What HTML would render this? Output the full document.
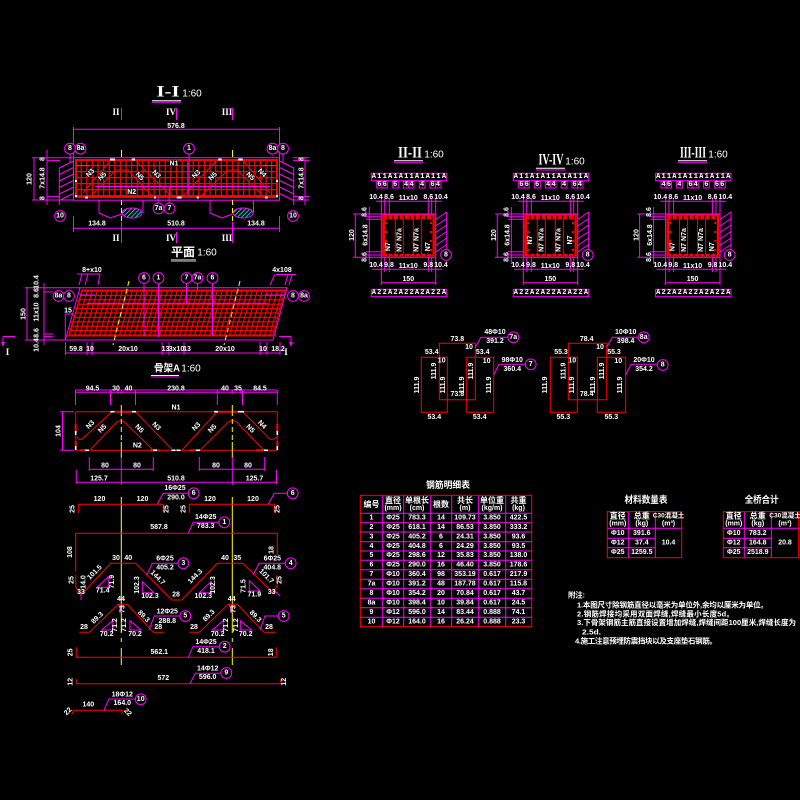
<!DOCTYPE html>
<html><head><meta charset="utf-8"><style>
html,body{margin:0;padding:0;background:#000;width:800px;height:800px;overflow:hidden}
svg{display:block}
text{fill:#fff;font-family:"Liberation Sans","Noto Sans CJK SC",sans-serif;font-size:7px;font-weight:bold;text-anchor:middle;dominant-baseline:central}
.m{stroke:#f0f;fill:none;stroke-width:1}
.r{stroke:#f00;fill:none;stroke-width:1}
.y{stroke:#ff0;fill:none;stroke-width:1}
.yd{stroke:#ff0;fill:none;stroke-width:1;stroke-dasharray:5 3}
.w{stroke:#fff;fill:none;stroke-width:1}
.c{stroke:#f0f;fill:#000;stroke-width:1}
.h{paint-order:stroke;stroke:#000;stroke-width:1.5px}
.ti{font-family:"Liberation Serif","Noto Serif CJK SC",serif;font-size:16px}
.sc{font-size:11px;font-weight:normal}
.cn{font-size:8px}
.nt{font-size:7.5px;text-anchor:start}
.cell{font-family:"Liberation Mono",monospace;font-size:7px;letter-spacing:1.186px;text-anchor:start}
</style></head><body>
<svg width="800" height="800" viewBox="0 0 800 800" xmlns="http://www.w3.org/2000/svg">
<defs>
<pattern id="g1" width="5.6" height="6" patternUnits="userSpaceOnUse" x="75" y="159"><path d="M.6 0V6M0 .6H5.6" stroke="#f00" stroke-width="1.4" fill="none"/></pattern>
<pattern id="g2" width="5" height="4.4" patternUnits="userSpaceOnUse" patternTransform="skewX(-16)"><path d="M.6 0V4.4M0 .6H5" stroke="#f00" stroke-width="1.3" fill="none"/></pattern>
<pattern id="hb" width="3" height="3" patternUnits="userSpaceOnUse" patternTransform="rotate(45)"><rect width="3" height="3" fill="#000"/><path d="M0 0V3" stroke="#0ff" stroke-width="1.6"/></pattern>
<pattern id="cl" width="5.386" height="8" patternUnits="userSpaceOnUse" x="371.3"><path d="M.5 0V8" stroke="#f0f"/></pattern>
<g id="sec">
<rect x="371.3" y="173.3" width="75.4" height="7.4" fill="url(#cl)" class="m" stroke="#f0f"/>
<rect x="371.3" y="289.3" width="75.4" height="7.4" fill="url(#cl)" class="m" stroke="#f0f"/>
<path class="m" d="M376.7 181.5h10.6v6.5h-10.6zM382 181.5v6.5M392.3 181.5h6v6.5h-6zM403.3 181.5h10.7v6.5h-10.7zM408.6 181.5v6.5M419.3 181.5h5.7v6.5h-5.7zM430 181.5h11v6.5h-11zM435.5 181.5v6.5"/>
<rect x="381.3" y="214" width="54.4" height="43.3" class="m"/>
<path class="m" d="M376 201.3H442M381.3 199V214M384.7 199V214M389.3 199V214M428.3 199V214M431.7 199V214M435.7 199V214"/>
<path class="m" d="M372 269.3H442M381.3 257.3V285M384.7 257.3V272M389.3 257.3V272M428.3 257.3V272M431.7 257.3V272M435.7 257.3V285M381.3 282.7H435.7"/>
<path class="m" d="M355.3 214V257.3M369.3 207V264M353 214H381M353 257.3H381M366 216.7H381M366 219.3H381M366 251.7H381M366 255H381"/>
<path class="m" d="M446.7 212V252M435.7 219.5L446.7 212M435.7 226L446.7 218.5M435.7 232.5L446.7 225M435.7 239L446.7 231.5M435.7 245.5L446.7 238M435.7 252L446.7 244.5"/>
<rect x="382.7" y="215" width="51.6" height="41" class="r"/>
<path d="M383 217.5H434" stroke="#f00" stroke-width="4" stroke-dasharray="4 1.5" fill="none"/>
<path d="M383 255H434" stroke="#f00" stroke-width="2.5" stroke-dasharray="4 1.5" fill="none"/>
<path d="M384 216V256M433.5 216V256" stroke="#f00" stroke-width="2" fill="none"/>
<path d="M386 222V252M431 222V252" stroke="#f00" stroke-width="2" stroke-dasharray="2 7" fill="none"/>
<path class="r" d="M395.3 217V255M403.3 217V255M413.3 217V255M421.3 217V255"/>
</g>
</defs>

<!-- I-I section -->
<text x="168" y="92" class="ti" textLength="23" lengthAdjust="spacingAndGlyphs">I-I</text>
<text x="192" y="94" class="sc" style="font-size:10px">1:60</text>
<path class="w" d="M152 100.7H181"/><path class="m" d="M152 102.3H181"/>
<path class="m" d="M121.5 108V120M176.5 108V120M232.5 108V120M121.5 232V243M176.5 232V243M232.5 232V243"/>
<text x="116" y="112" class="ti" style="font-size:9px">II</text><text x="171" y="112" class="ti" style="font-size:9px">IV</text><text x="227" y="112" class="ti" style="font-size:9px">III</text>
<text x="116" y="238" class="ti" style="font-size:9px">II</text><text x="171" y="238" class="ti" style="font-size:9px">IV</text><text x="227" y="238" class="ti" style="font-size:9px">III</text>
<path class="m" d="M73.5 127V158M279.5 127V158M73.5 129.3H279.5"/><text x="176" y="126.5">576.8</text>
<path class="y" d="M121.5 150V157M232.5 150V157"/>
<path class="m" d="M34 158V200M47 150V205M32 157.7H60M47 160.6H60M47 196.6H60M32 200H73M60 157.7H73M293 157.7H309M293 160.6H309M293 196.6H309M293 200H309M305 157V205"/>
<text x="30" y="179" transform="rotate(-90 30 179)">120</text>
<text x="43" y="178" transform="rotate(-90 43 178)">7x14.8</text>
<text x="43" y="159" transform="rotate(-90 43 159)">8</text><text x="43" y="198" transform="rotate(-90 43 198)">8</text>
<text x="302" y="178" transform="rotate(-90 302 178)">7x14.8</text>
<text x="302" y="159" transform="rotate(-90 302 159)">8</text><text x="302" y="198" transform="rotate(-90 302 198)">8</text>
<path class="m" d="M59.3 168V205M59.3 168L73.5 161M59.3 174.5L73.5 167.5M59.3 181L73.5 174M59.3 187.5L73.5 180.5M59.3 194L73.5 187M59.3 200.5L73.5 193.5"/>
<path class="m" d="M293.7 168V205M293.7 168L279.5 161M293.7 174.5L279.5 167.5M293.7 181L279.5 174M293.7 187.5L279.5 180.5M293.7 194L279.5 187M293.7 200.5L279.5 193.5"/>
<rect x="73.5" y="157.7" width="206" height="42.5" class="m"/>
<rect x="75" y="159" width="203" height="39" fill="url(#g1)"/>
<path d="M75 160H278M75 197H278M76 159V198M277 159V198" stroke="#f00" stroke-width="2" fill="none"/>
<path class="r" d="M83 193L111 160M90 197L116 170H128L153 197M135 160L172 197M182 197L217 160M200 197L228 170H237L264 197M243 160L270 193"/>
<path class="m" d="M95 186.5H270M76 165.5H90M262 165.5H277M189 153V195M169.3 186V203M158 197V203"/>
<path d="M110 159.5h5M131.7 159.5h3.3M218.3 159.5h3.4M238.3 159.5h4.4M85 197.5h3M154 197.5h2M176.7 197.5h5M196.7 197.5h2.3M265 197.5h2.7M75 196h2M75 181h2M276 181h2M276 196h2" stroke="#fff" stroke-width="2" fill="none"/>
<text x="90.7" y="173.3" class="h" transform="rotate(-45 90.7 173.3)">N3</text><text x="102.7" y="176.7" class="h" transform="rotate(-45 102.7 176.7)">N5</text>
<text x="139.3" y="176.7" class="h" transform="rotate(45 139.3 176.7)">N5</text><text x="156" y="174.7" class="h" transform="rotate(45 156 174.7)">N3</text>
<text x="196.7" y="174.7" class="h" transform="rotate(-45 196.7 174.7)">N3</text><text x="213.3" y="176.7" class="h" transform="rotate(-45 213.3 176.7)">N5</text>
<text x="250" y="176.7" class="h" transform="rotate(45 250 176.7)">N5</text><text x="261.7" y="173.3" class="h" transform="rotate(45 261.7 173.3)">N4</text>
<text x="174" y="164" class="h">N1</text><text x="131.7" y="192.3" class="h">N2</text>
<path class="m" d="M99 200V213L110 218L122 214M143 200V213M210 200V213L222 218L232.5 214M253.5 200V213"/>
<ellipse cx="132" cy="213" rx="10" ry="5" fill="url(#hb)" stroke="#f0f"/><ellipse cx="243" cy="213" rx="10" ry="5" fill="url(#hb)" stroke="#f0f"/>
<path class="yd" d="M121.5 200V232M232.5 200V232"/>
<path class="m" d="M73.5 216V232M279.5 216V232M121.5 222V232M232.5 222V232M73.5 228.3H279.5"/>
<text x="97" y="224">134.8</text><text x="176" y="224">510.8</text><text x="256" y="224">134.8</text>
<path class="m" d="M70 154V162M283 154V162"/>
<circle class="c" cx="70" cy="148.7" r="5.4"/><text x="70" y="148.7">8</text>
<circle class="c" cx="80.5" cy="148.7" r="5.4"/><text x="80.5" y="148.7">8a</text>
<circle class="c" cx="189" cy="148.7" r="5.4"/><text x="189" y="148.7">1</text>
<circle class="c" cx="272.5" cy="148.7" r="5.4"/><text x="272.5" y="148.7">8a</text>
<circle class="c" cx="283" cy="148.7" r="5.4"/><text x="283" y="148.7">8</text>
<circle class="c" cx="60" cy="216" r="5.4"/><text x="60" y="216">10</text>
<circle class="c" cx="293" cy="216" r="5.4"/><text x="293" y="216">10</text>
<circle class="c" cx="158.5" cy="208.5" r="5.4"/><text x="158.5" y="208.5">7a</text>
<circle class="c" cx="169.5" cy="208.5" r="5.4"/><text x="169.5" y="208.5">7</text>

<!-- plan -->
<text x="183" y="252" class="cn" style="font-size:12px" textLength="24" lengthAdjust="spacingAndGlyphs">平面</text><text x="207" y="253" class="sc" style="font-size:10px">1:60</text>
<path class="w" d="M171 260H196"/><path class="m" d="M171 261.5H196"/>
<polygon points="80,287.7 287,287.7 273,340 65.3,340" class="m"/>
<polygon points="82,290 285,290 272.7,336 68.5,336" fill="url(#g2)" stroke="#f00"/>
<path class="m" d="M87 303.3H267M80 295H95M265 295H285M144 284V336M158.5 284V337M186.5 284V303M212.5 284V336M197.5 284V290"/>
<path class="yd" d="M129 281L113 345M240 281L224 345"/>
<path class="m" d="M65.3 314V340M65.3 314H73M27 287V340M44 283V345M25 287.7H80M44 292H53M44 334H53M44 336.6H53M25 340H66"/>
<path class="m" d="M77 274H100M82 274L79 285M88 274L85 285M100 274L98 285M276 274.5H296M275 274.5L270 285M288 274.5L285 285M292 274.5L289 285"/>
<text x="92" y="270.5">8+x10</text><text x="282" y="270.5">4x108</text><text x="68" y="311">15</text>
<text x="24" y="314" transform="rotate(-90 24 314)">150</text>
<text x="37" y="282" transform="rotate(-90 37 282)">10.4</text><text x="37" y="293" transform="rotate(-90 37 293)">8.6</text><text x="37" y="312" transform="rotate(-90 37 312)">11x10</text><text x="37" y="333" transform="rotate(-90 37 333)">8.6</text><text x="37" y="345" transform="rotate(-90 37 345)">10.4</text>
<path class="m" d="M3 336.5H15M3 336.5V346M291 336.5H279M291 336.5V346M65.5 353H280M65.5 342V355M87 342V355M92 342V355M162 342V355M169 342V355M184 342V355M260 342V355M267 342V355M280 342V355"/>
<path d="M1 342L3 347L5 342zM289 342L291 347L293 342z" fill="#f0f"/>
<text x="7.5" y="352" class="ti" style="font-size:9px">I</text><text x="286" y="352" class="ti" style="font-size:9px">I</text>
<text x="76" y="349.5">59.8</text><text x="90" y="349.5">10</text><text x="128" y="349.5">20x10</text><text x="165.5" y="349.5">13</text><text x="176.5" y="349.5">3x10</text><text x="187" y="349.5">13</text><text x="225" y="349.5">20x10</text><text x="263" y="349.5">10</text><text x="278" y="349.5">18.2</text>
<circle class="c" cx="144" cy="278" r="5.4"/><text x="144" y="278">6</text>
<circle class="c" cx="158.5" cy="278" r="5.4"/><text x="158.5" y="278">1</text>
<circle class="c" cx="186.5" cy="278" r="5.4"/><text x="186.5" y="278">7</text>
<circle class="c" cx="197.5" cy="278" r="5.4"/><text x="197.5" y="278">7a</text>
<circle class="c" cx="212.5" cy="278" r="5.4"/><text x="212.5" y="278">6</text>
<circle class="c" cx="58.5" cy="296" r="5.4"/><text x="58.5" y="296">8a</text>
<circle class="c" cx="69" cy="296" r="5.4"/><text x="69" y="296">8</text>
<circle class="c" cx="293" cy="296" r="5.4"/><text x="293" y="296">8</text>
<circle class="c" cx="304" cy="296" r="5.4"/><text x="304" y="296">8a</text>

<!-- skeleton -->
<text x="167" y="369" class="cn" style="font-size:10px" textLength="26" lengthAdjust="spacingAndGlyphs">骨架A</text><text x="191" y="369" class="sc" style="font-size:10px">1:60</text>
<path class="w" d="M151 375.5H179"/><path class="m" d="M151 377H179"/>
<path class="m" d="M75.5 390H277M75.5 390V405M110.5 390V405M118 390V394M121.3 390V394M135.5 390V405M217.3 390V405M232.3 390V394M241 390V394M242.5 390V405M277.3 390V405M75.5 392.3H277.3"/>
<text x="92.5" y="389">94.5</text><text x="116" y="389">30</text><text x="128.5" y="389">40</text><text x="176" y="389">230.8</text><text x="225" y="389">40</text><text x="238" y="389">35</text><text x="260" y="389">84.5</text>
<path class="r" d="M75.7 411.7H277.3M75.7 450.3H277.3"/>
<path class="r" d="M75.7 411.7V450.3M277.3 411.7V450.3"/>
<path d="M75.7 424V432M75.7 441V446M277.3 424V432M277.3 441V446M115 411.7H132M218 411.7H238M80 450.3H86M150 450.3H160M190 450.3H197M256 450.3H265" stroke="#f00" stroke-width="2" fill="none"/>
<path class="r" d="M76.7 436.7L79 439.3H82L112 411.7M89.7 450.3L116.7 422Q121.3 419 125.5 423L153.3 450.3M135.3 411.7L171.7 449M181.7 450.3L217.3 411.7M200 450.3L228.3 422Q232.5 419 236.7 422L264 450.3M242.7 411.7L270 439.3H273.3L277.3 436.7"/>
<path d="M110.5 411.7h4M132 411.7h4M218 411.7h-4M238 411.7h3M241 411.7h3M85 450.3h4M153 450.3h4M171.5 450.3h4M176.5 450.3h4M196 450.3h4M264 450.3h4M75.7 431v4M75.7 446v4M277.3 431v4M277.3 446v4" stroke="#fff" stroke-width="1.6" fill="none"/>
<path class="y" d="M121.3 405V411"/>
<path class="yd" d="M121.3 411V442M232.3 411V442"/>
<path class="y" d="M121.3 442V458M232.3 442V458M232.3 405V411"/>
<text x="176" y="408">N1</text><text x="137.3" y="446">N2</text>
<text x="90.7" y="425" transform="rotate(-45 90.7 425)">N3</text><text x="102.7" y="429" transform="rotate(-45 102.7 429)">N5</text><text x="139" y="429" transform="rotate(45 139 429)">N5</text><text x="156" y="426.7" transform="rotate(45 156 426.7)">N3</text><text x="196.7" y="427" transform="rotate(-45 196.7 427)">N3</text><text x="212.7" y="429" transform="rotate(-45 212.7 429)">N5</text><text x="250" y="429" transform="rotate(45 250 429)">N5</text><text x="261.7" y="425" transform="rotate(45 261.7 425)">N4</text>
<path class="m" d="M62.5 411.7V450.3M60 411.7H74M60 450.3H74"/>
<text x="59" y="431" transform="rotate(-90 59 431)">104</text>
<path class="m" d="M89.3 457V471M121.3 457V485M153.3 457V471M199.3 457V471M232.3 457V485M264.7 457V471M89.3 469.3H153.3M199.3 469.3H264.7M76.3 470V484M276.5 470V484M76.3 482.3H276.5"/>
<text x="105" y="466">80</text><text x="137" y="466">80</text><text x="216" y="466">80</text><text x="248" y="466">80</text>
<text x="99" y="479">125.7</text><text x="176" y="479">510.8</text><text x="254.5" y="479">125.7</text>

<!-- bars -->
<path class="y" d="M121.3 497V633M232.3 497V633M121.3 648V665M232.3 648V665"/>
<path class="y" d="M121.3 638V642M232.3 638V642"/>
<path class="r" d="M78.3 513V504.3H163.3V513M189.3 513V504.3H274.3V513"/>
<text x="99.5" y="499.5">120</text><text x="142.5" y="499.5">120</text><text x="210" y="499.5">120</text><text x="253" y="499.5">120</text>
<text x="73" y="509" transform="rotate(-90 73 509)">25</text><text x="167" y="509" transform="rotate(-90 167 509)">25</text><text x="184" y="509" transform="rotate(-90 184 509)">25</text><text x="278" y="509" transform="rotate(-90 278 509)">25</text>
<path class="m" d="M157.3 504.3L163.3 493.3H189M268.3 504.3L274.3 493.3H287.3"/>
<text x="175" y="488.5">16Φ25</text><text x="176" y="498">290.0</text>
<circle class="c" cx="193.7" cy="493.3" r="5.4"/><text x="193.7" y="493.3">6</text>
<circle class="c" cx="292.7" cy="493.3" r="5.4"/><text x="292.7" y="493.3">6</text>
<path class="r" d="M75.7 571.7V533.3H277.3V555"/>
<text x="159" y="527.7">587.8</text><text x="70.7" y="552" transform="rotate(-90 70.7 552)">108</text><text x="272" y="550" transform="rotate(-90 272 550)">18</text>
<path class="m" d="M188.3 533.3L193.3 522.3H219.3"/>
<text x="205.7" y="517.7">14Φ25</text><text x="205.7" y="526.7">783.3</text>
<circle class="c" cx="224.3" cy="522.3" r="5.4"/><text x="224.3" y="522.3">1</text>
<path class="r" d="M75.7 575V586.7L81 595L110.7 563.3H135.7L171.7 600H181.7L217.3 563.3H242.7L273.3 593L277 586V575"/>
<path class="m" d="M273 589L280 596M81 594V600"/>
<text x="116" y="558.7">30</text><text x="128.3" y="558.7">40</text><text x="225" y="558.7">40</text><text x="237.3" y="558.7">35</text>
<text x="95" y="572.7" transform="rotate(-45 95 572.7)">101.5</text><text x="157.3" y="578" transform="rotate(45 157.3 578)">144.7</text><text x="195.7" y="576.7" transform="rotate(-45 195.7 576.7)">144.3</text><text x="266" y="576.7" transform="rotate(45 266 576.7)">101.7</text>
<text x="72" y="580" transform="rotate(-90 72 580)">25</text><text x="280" y="580" transform="rotate(-90 280 580)">25</text><text x="84" y="582" transform="rotate(-90 84 582)">14.0</text>
<path class="m" d="M146.7 575L152.3 563.3H178.3M253.3 575L259 563.3H285.7"/>
<text x="165" y="559">6Φ25</text><text x="165" y="568">405.2</text><text x="272.3" y="559">6Φ25</text><text x="272.3" y="568">404.8</text>
<circle class="c" cx="183.3" cy="563.3" r="5.4"/><text x="183.3" y="563.3">3</text>
<circle class="c" cx="290.7" cy="563.3" r="5.4"/><text x="290.7" y="563.3">4</text>
<path class="m" d="M108.3 576.7V587.3H97.3ZM142.3 581.7V592.7H154ZM211 581.7V592.7H199.3ZM249.3 580.7V591H260Z"/>
<text x="102.7" y="591">71.4</text><text x="112.7" y="581.7" transform="rotate(-90 112.7 581.7)">71.9</text>
<text x="150" y="596.7">102.3</text><text x="137.7" y="585" transform="rotate(-90 137.7 585)">102.3</text>
<text x="203.3" y="596.7">102.3</text><text x="213.3" y="585" transform="rotate(-90 213.3 585)">102.3</text>
<text x="254.3" y="595">71.9</text><text x="244" y="586" transform="rotate(-90 244 586)">71.5</text>
<text x="176" y="595">28</text><text x="81" y="592.7">33</text><text x="271.7" y="592.7">33</text>
<path class="r" d="M79.3 632.3H89.3L118.3 604.3H127.3L153.3 632.3H164M189.3 632.3H199.3L228.3 604.3H237.3L264 632.3H275"/>
<path class="m" d="M118.5 604L122 613M229 604L232 613"/>
<text x="121" y="599.3">44</text><text x="231.7" y="599.3">44</text>
<text x="84" y="627.7">28</text><text x="158.3" y="627.7">28</text><text x="194" y="627.7">28</text><text x="269" y="627.7">28</text>
<text x="97.7" y="618.3" transform="rotate(-45 97.7 618.3)">89.3</text><text x="143.3" y="616.7" transform="rotate(45 143.3 616.7)">89.3</text><text x="209.3" y="616" transform="rotate(-45 209.3 616)">89.3</text><text x="255" y="616.7" transform="rotate(45 255 616.7)">89.3</text>
<text x="123" y="609" transform="rotate(-90 123 609)">73</text><text x="234" y="609" transform="rotate(-90 234 609)">73</text>
<path class="m" d="M112.7 620.7V630H101.7ZM130 620.7V630H141ZM223.3 620.7V630H212.3ZM240.3 620.7V630H251.7Z"/>
<text x="106.7" y="634.3">70.2</text><text x="135" y="634.3">70.2</text><text x="217.7" y="634.3">70.2</text><text x="245.7" y="634.3">70.2</text>
<text x="115.7" y="625" transform="rotate(-90 115.7 625)">71.2</text><text x="124.3" y="625" transform="rotate(-90 124.3 625)">71.2</text><text x="226.7" y="625" transform="rotate(-90 226.7 625)">71.2</text><text x="236.7" y="625" transform="rotate(-90 236.7 625)">71.2</text>
<path class="m" d="M149 630L154.3 616H180M260 630L265 616H278.3"/>
<text x="167.3" y="612">12Φ25</text><text x="167.3" y="621.7">288.8</text>
<circle class="c" cx="185.3" cy="616" r="5.4"/><text x="185.3" y="616">5</text>
<circle class="c" cx="283.7" cy="616" r="5.4"/><text x="283.7" y="616">5</text>
<path class="r" d="M76.3 647.3V657.3H276.3V647.3"/>
<text x="159.3" y="652.7">562.1</text><text x="71" y="652.3" transform="rotate(-90 71 652.3)">25</text><text x="271.7" y="652.3" transform="rotate(-90 271.7 652.3)">18</text>
<path class="m" d="M188.3 657.3L193 646.7H219.3"/>
<text x="206" y="642.7">14Φ25</text><text x="206" y="651.7">418.1</text>
<circle class="c" cx="224.7" cy="646.7" r="5.4"/><text x="224.7" y="646.7">2</text>
<path class="r" d="M76.3 679.3V683.7H280.7V679.3"/>
<text x="163.3" y="678.3">572</text><text x="71" y="681.7" transform="rotate(-90 71 681.7)">12</text><text x="284.3" y="681.7" transform="rotate(-90 284.3 681.7)">12</text>
<path class="m" d="M190 683.7L195.3 673.3H221.7"/>
<text x="207.7" y="669">14Φ12</text><text x="207.7" y="677.7">596.0</text>
<circle class="c" cx="226.3" cy="673" r="5.4"/><text x="226.3" y="673">9</text>
<path class="r" d="M72.3 714.3L73.3 710.3H122.3L121.7 714.3"/>
<text x="88.3" y="705">140</text><text x="68.3" y="711.7" transform="rotate(-45 68.3 711.7)">22</text><text x="127.3" y="712.7" transform="rotate(45 127.3 712.7)">22</text>
<path class="m" d="M104 710.3L109 699H135.7"/>
<text x="122.3" y="695">18Φ12</text><text x="122.3" y="703.7">164.0</text>
<circle class="c" cx="140.7" cy="699.3" r="5.4"/><text x="140.7" y="699.3">10</text>

<!-- sections -->
<use href="#sec"/><use href="#sec" x="142"/><use href="#sec" x="284.3"/>
<text x="410" y="153" class="ti" textLength="24" lengthAdjust="spacingAndGlyphs">II-II</text><text x="434" y="155" class="sc" style="font-size:10px">1:60</text>
<path class="w" d="M394 160.7H423"/><path class="m" d="M394 162.7H423"/>
<text x="551" y="160" class="ti" textLength="25" lengthAdjust="spacingAndGlyphs">IV-IV</text><text x="575" y="162" class="sc" style="font-size:10px">1:60</text>
<path class="w" d="M536 168.3H565"/><path class="m" d="M536 170H565"/>
<text x="693" y="153" class="ti" textLength="26" lengthAdjust="spacingAndGlyphs">III-III</text><text x="718" y="155" class="sc" style="font-size:10px">1:60</text>
<path class="w" d="M678 160.7H707"/><path class="m" d="M678 162.7H707"/>

<text x="371.8" y="177" class="cell">A11A1A11A1A11A</text><text x="371.8" y="293" class="cell">A22A2A22A2A22A</text>
<text x="513.8" y="177" class="cell">A11A1A11A1A11A</text><text x="513.8" y="293" class="cell">A22A2A22A2A22A</text>
<text x="656.1" y="177" class="cell">A11A1A11A1A11A</text><text x="656.1" y="293" class="cell">A22A2A22A2A22A</text>
<text x="377.2" y="185" class="cell">66</text><text x="393" y="185" class="cell">6</text><text x="404" y="185" class="cell">44</text><text x="420" y="185" class="cell">4</text><text x="430.5" y="185" class="cell">64</text>
<text x="519.2" y="185" class="cell">66</text><text x="535" y="185" class="cell">6</text><text x="546" y="185" class="cell">44</text><text x="562" y="185" class="cell">4</text><text x="572.5" y="185" class="cell">64</text>
<text x="661.5" y="185" class="cell">46</text><text x="677.3" y="185" class="cell">4</text><text x="688.3" y="185" class="cell">64</text><text x="704.3" y="185" class="cell">6</text><text x="714.8" y="185" class="cell">66</text>

<text x="376" y="197.3">10.4</text><text x="389" y="197.3">8.6</text><text x="408.3" y="198.3">11x10</text><text x="428.3" y="197.3">8.6</text><text x="441" y="197.3">10.4</text>
<text x="376" y="265.7">10.4</text><text x="389" y="265.7">9.8</text><text x="408.3" y="266.7">11x10</text><text x="428.3" y="265.7">9.8</text><text x="441" y="265.7">10.4</text>
<text x="408.3" y="279.3">150</text><text x="352.7" y="235" transform="rotate(-90 352.7 235)">120</text><text x="366" y="235" transform="rotate(-90 366 235)">6x14.8</text><text x="365" y="212" transform="rotate(-90 365 212)">8.6</text><text x="365" y="257" transform="rotate(-90 365 257)">8.6</text>
<text x="388.7" y="246.7" transform="rotate(-90 388.7 246.7)">N7</text><text x="400" y="240" transform="rotate(-90 400 240)">N7 N7a</text><text x="417" y="240" transform="rotate(-90 417 240)">N7 N7a</text><text x="428.3" y="246.7" transform="rotate(-90 428.3 246.7)">N7</text>
<circle class="c" cx="446" cy="255" r="5.4"/><text x="446" y="255">8</text>

<text x="518" y="197.3">10.4</text><text x="531" y="197.3">8.6</text><text x="550.3" y="198.3">11x10</text><text x="570.3" y="197.3">8.6</text><text x="583" y="197.3">10.4</text>
<text x="518" y="265.7">10.4</text><text x="531" y="265.7">9.8</text><text x="550.3" y="266.7">11x10</text><text x="570.3" y="265.7">9.8</text><text x="583" y="265.7">10.4</text>
<text x="550.3" y="279.3">150</text><text x="494.7" y="235" transform="rotate(-90 494.7 235)">120</text><text x="508" y="235" transform="rotate(-90 508 235)">6x14.8</text><text x="507" y="212" transform="rotate(-90 507 212)">8.6</text><text x="507" y="257" transform="rotate(-90 507 257)">8.6</text>
<text x="530.7" y="240" transform="rotate(-90 530.7 240)">N7</text><text x="542" y="240" transform="rotate(-90 542 240)">N7 N7a</text><text x="559" y="240" transform="rotate(-90 559 240)">N7 N7a</text><text x="570.3" y="240" transform="rotate(-90 570.3 240)">N7</text>
<circle class="c" cx="587.7" cy="255" r="5.4"/><text x="587.7" y="255">8</text>

<text x="660.3" y="197.3">10.4</text><text x="673.3" y="197.3">8.6</text><text x="692.6" y="198.3">11x10</text><text x="712.6" y="197.3">8.6</text><text x="725.3" y="197.3">10.4</text>
<text x="660.3" y="265.7">10.4</text><text x="673.3" y="265.7">9.8</text><text x="692.6" y="266.7">11x10</text><text x="712.6" y="265.7">9.8</text><text x="725.3" y="265.7">10.4</text>
<text x="692.6" y="279.3">150</text><text x="637" y="235" transform="rotate(-90 637 235)">120</text><text x="650.3" y="235" transform="rotate(-90 650.3 235)">6x14.8</text><text x="649.3" y="212" transform="rotate(-90 649.3 212)">8.6</text><text x="649.3" y="257" transform="rotate(-90 649.3 257)">8.6</text>
<text x="673" y="246.7" transform="rotate(-90 673 246.7)">N7</text><text x="684.3" y="240" transform="rotate(-90 684.3 240)">N7 N7a</text><text x="701.3" y="240" transform="rotate(-90 701.3 240)">N7 N7a</text><text x="712.6" y="246.7" transform="rotate(-90 712.6 246.7)">N7</text>
<circle class="c" cx="729.7" cy="255" r="5.4"/><text x="729.7" y="255">8</text>

<!-- detail bars -->
<path class="r" d="M439.3 357.3V343.3H475.3V399.7H439.3V357.3M421.3 357.3H447.3V412.3H421.3ZM466.3 357.3H493.7V412.3H466.3Z"/>
<text x="457.3" y="339.3">73.8</text><text x="431.7" y="352.7">53.4</text><text x="469" y="347.7">10</text><text x="482.7" y="352.7">53.4</text><text x="441.7" y="361">10</text><text x="486.7" y="361.7">10</text>
<text x="417.3" y="385" transform="rotate(-90 417.3 385)">111.9</text><text x="434.3" y="371" transform="rotate(-90 434.3 371)">111.9</text><text x="443.3" y="385" transform="rotate(-90 443.3 385)">111.9</text><text x="462.3" y="385" transform="rotate(-90 462.3 385)">111.9</text><text x="471.3" y="371" transform="rotate(-90 471.3 371)">111.9</text><text x="489.3" y="385" transform="rotate(-90 489.3 385)">111.9</text>
<text x="457.3" y="394.3">73.8</text><text x="434.3" y="417.3">53.4</text><text x="479.7" y="417.3">53.4</text>
<path class="m" d="M475.3 347.3L481 337.3H508.3M493.7 375L499 364.3H525.7"/>
<text x="495" y="332.7">48Φ10</text><text x="495" y="341.7">391.2</text><text x="512.3" y="360.3">98Φ10</text><text x="512.3" y="369.3">360.4</text>
<circle class="c" cx="513.3" cy="337.3" r="5.4"/><text x="513.3" y="337.3">7a</text>
<circle class="c" cx="530.7" cy="364.3" r="5.4"/><text x="530.7" y="364.3">7</text>
<path class="r" d="M568.3 357.3V343.3H606.7V399.7H568.3V357.3M550.3 357.3H577.3V412.3H550.3ZM597.3 357.3H625.7V412.3H597.3Z"/>
<text x="586.7" y="339.3">78.4</text><text x="561" y="352.7">55.3</text><text x="600" y="347.7">10</text><text x="614" y="352.7">55.3</text><text x="572.3" y="361">10</text><text x="618.3" y="361.7">10</text>
<text x="545.7" y="385" transform="rotate(-90 545.7 385)">111.9</text><text x="564" y="371" transform="rotate(-90 564 371)">111.9</text><text x="572.7" y="385" transform="rotate(-90 572.7 385)">111.9</text><text x="593.3" y="385" transform="rotate(-90 593.3 385)">111.9</text><text x="602.3" y="371" transform="rotate(-90 602.3 371)">111.9</text><text x="620.7" y="385" transform="rotate(-90 620.7 385)">111.9</text>
<text x="586.7" y="394.3">78.4</text><text x="563.3" y="417.3">55.3</text><text x="611.3" y="417.3">55.3</text>
<path class="m" d="M606.7 347.3L612.3 337.3H638.3M625.7 375L631 364.3H657.3"/>
<text x="625.7" y="332.7">10Φ10</text><text x="625.7" y="341.7">398.4</text><text x="644" y="360.3">20Φ10</text><text x="644" y="369.3">354.2</text>
<circle class="c" cx="643.7" cy="337.3" r="5.4"/><text x="643.7" y="337.3">8a</text>
<circle class="c" cx="662.7" cy="365" r="5.4"/><text x="662.7" y="365">8</text>

<!-- main table -->
<text x="448" y="485" class="cn" style="font-size:9px" textLength="44" lengthAdjust="spacingAndGlyphs">钢筋明细表</text>
<path class="m" d="M360.3 513.3H531.7M360.3 522.7H531.7M360.3 532H531.7M360.3 541.7H531.7M360.3 551H531.7M360.3 560.3H531.7M360.3 569.7H531.7M360.3 579.3H531.7M360.3 588.7H531.7M360.3 598.3H531.7M360.3 607.7H531.7M360.3 617.3H531.7M382.7 495.3V626.7M403.7 495.3V626.7M430.7 495.3V626.7M451.7 495.3V626.7M478.7 495.3V626.7M505.7 495.3V626.7"/>
<rect x="360.3" y="495.3" width="171.4" height="131.4" class="r"/>
<text x="371.5" y="504.5" class="cn">编号</text><text x="393" y="500.5" class="cn">直径</text><text x="393" y="508.5">(mm)</text><text x="417" y="500.5" class="cn">单根长</text><text x="417" y="508.5">(cm)</text><text x="441" y="504.5" class="cn">根数</text><text x="465" y="500.5" class="cn">共长</text><text x="465" y="508.5">(m)</text><text x="492" y="500.5" class="cn">单位重</text><text x="492" y="508.5">(kg/m)</text><text x="518.5" y="500.5" class="cn">共重</text><text x="518.5" y="508.5">(kg)</text>
<text x="371.5" y="518">1</text><text x="393" y="518">Φ25</text><text x="417" y="518">783.3</text><text x="441" y="518">14</text><text x="465" y="518">109.73</text><text x="492" y="518">3.850</text><text x="518.5" y="518">422.5</text>
<text x="371.5" y="527.3">2</text><text x="393" y="527.3">Φ25</text><text x="417" y="527.3">618.1</text><text x="441" y="527.3">14</text><text x="465" y="527.3">86.53</text><text x="492" y="527.3">3.850</text><text x="518.5" y="527.3">333.2</text>
<text x="371.5" y="536.8">3</text><text x="393" y="536.8">Φ25</text><text x="417" y="536.8">405.2</text><text x="441" y="536.8">6</text><text x="465" y="536.8">24.31</text><text x="492" y="536.8">3.850</text><text x="518.5" y="536.8">93.6</text>
<text x="371.5" y="546.3">4</text><text x="393" y="546.3">Φ25</text><text x="417" y="546.3">404.8</text><text x="441" y="546.3">6</text><text x="465" y="546.3">24.29</text><text x="492" y="546.3">3.850</text><text x="518.5" y="546.3">93.5</text>
<text x="371.5" y="555.7">5</text><text x="393" y="555.7">Φ25</text><text x="417" y="555.7">298.6</text><text x="441" y="555.7">12</text><text x="465" y="555.7">35.83</text><text x="492" y="555.7">3.850</text><text x="518.5" y="555.7">138.0</text>
<text x="371.5" y="565">6</text><text x="393" y="565">Φ25</text><text x="417" y="565">290.0</text><text x="441" y="565">16</text><text x="465" y="565">46.40</text><text x="492" y="565">3.850</text><text x="518.5" y="565">178.6</text>
<text x="371.5" y="574.5">7</text><text x="393" y="574.5">Φ10</text><text x="417" y="574.5">360.4</text><text x="441" y="574.5">98</text><text x="465" y="574.5">353.19</text><text x="492" y="574.5">0.617</text><text x="518.5" y="574.5">217.9</text>
<text x="371.5" y="584">7a</text><text x="393" y="584">Φ10</text><text x="417" y="584">391.2</text><text x="441" y="584">48</text><text x="465" y="584">187.78</text><text x="492" y="584">0.617</text><text x="518.5" y="584">115.8</text>
<text x="371.5" y="593.5">8</text><text x="393" y="593.5">Φ10</text><text x="417" y="593.5">354.2</text><text x="441" y="593.5">20</text><text x="465" y="593.5">70.84</text><text x="492" y="593.5">0.617</text><text x="518.5" y="593.5">43.7</text>
<text x="371.5" y="603">8a</text><text x="393" y="603">Φ10</text><text x="417" y="603">398.4</text><text x="441" y="603">10</text><text x="465" y="603">39.84</text><text x="492" y="603">0.617</text><text x="518.5" y="603">24.5</text>
<text x="371.5" y="612.5">9</text><text x="393" y="612.5">Φ12</text><text x="417" y="612.5">596.0</text><text x="441" y="612.5">14</text><text x="465" y="612.5">83.44</text><text x="492" y="612.5">0.888</text><text x="518.5" y="612.5">74.1</text>
<text x="371.5" y="622">10</text><text x="393" y="622">Φ12</text><text x="417" y="622">164.0</text><text x="441" y="622">16</text><text x="465" y="622">26.24</text><text x="492" y="622">0.888</text><text x="518.5" y="622">23.3</text>

<!-- material tables -->
<text x="646" y="500.7" class="cn" style="font-size:9.5px" textLength="43" lengthAdjust="spacingAndGlyphs">材料数量表</text>
<path class="m" d="M607.3 528.3H681.7M607.3 538.3H655.3M607.3 547.7H655.3M628.3 511.7V557.7M655.3 511.7V557.7"/>
<rect x="607.3" y="511.7" width="74.4" height="46" class="r"/>
<text x="617.8" y="516" class="cn">直径</text><text x="617.8" y="524">(mm)</text><text x="641.8" y="516" class="cn">总重</text><text x="641.8" y="524">(kg)</text><text x="668.5" y="516" class="cn" style="font-size:6.5px">C30混凝土</text><text x="668.5" y="524">(m³)</text>
<text x="617.8" y="533.3">Φ10</text><text x="641.8" y="533.3">391.6</text><text x="617.8" y="543">Φ12</text><text x="641.8" y="543">37.4</text><text x="617.8" y="552.7">Φ25</text><text x="641.8" y="552.7">1259.5</text><text x="668.5" y="543">10.4</text>
<text x="761.7" y="500.7" class="cn" style="font-size:9.5px" textLength="34" lengthAdjust="spacingAndGlyphs">全桥合计</text>
<path class="m" d="M723.3 528.3H798.7M723.3 538.3H771.3M723.3 547.7H771.3M744.3 511.7V557.7M771.3 511.7V557.7"/>
<rect x="723.3" y="511.7" width="75.4" height="46" class="r"/>
<text x="733.8" y="516" class="cn">直径</text><text x="733.8" y="524">(mm)</text><text x="757.8" y="516" class="cn">总重</text><text x="757.8" y="524">(kg)</text><text x="785" y="516" class="cn" style="font-size:6.5px">C30混凝土</text><text x="785" y="524">(m³)</text>
<text x="733.8" y="533.3">Φ10</text><text x="757.8" y="533.3">783.2</text><text x="733.8" y="543">Φ12</text><text x="757.8" y="543">164.8</text><text x="733.8" y="552.7">Φ25</text><text x="757.8" y="552.7">2518.9</text><text x="785" y="543">20.8</text>

<!-- notes -->
<text x="568" y="595" class="nt" textLength="17">附注:</text>
<text x="577" y="605" class="nt" textLength="191">1.本图尺寸除钢筋直径以毫米为单位外,余均以厘米为单位。</text>
<text x="577" y="614" class="nt" textLength="157">2.钢筋焊接均采用双面焊缝,焊缝最小长度5d。</text>
<text x="577" y="622.7" class="nt" textLength="219">3.下骨架钢筋主筋直接设置增加焊缝,焊缝间距100厘米,焊缝长度为</text>
<text x="582" y="632" class="nt" textLength="19" lengthAdjust="spacingAndGlyphs">2.5d.</text>
<text x="575" y="641" class="nt" textLength="142">4.施工注意预埋防震挡块以及支座垫石钢筋。</text>
</svg>
</body></html>
